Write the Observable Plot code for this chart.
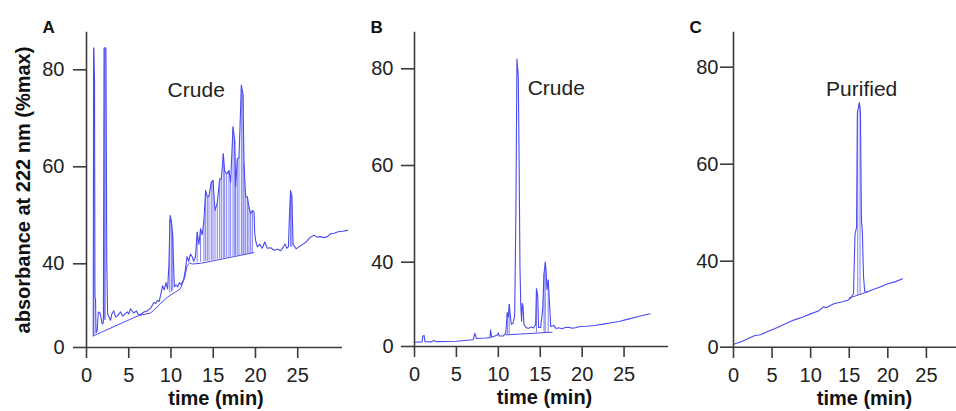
<!DOCTYPE html>
<html><head><meta charset="utf-8">
<script src="https://cdn.jsdelivr.net/npm/d3@7"></script>
<script src="https://cdn.jsdelivr.net/npm/@observablehq/plot@0.6"></script>
<style>
body{margin:0;background:#fff;}
#wrap{position:relative;width:956px;height:411px;overflow:hidden;}
#wrap > svg{position:absolute;top:0;}
</style></head><body><div id="wrap"></div>
<script>
// ---- labels & ticks ----
const xTicks = [0, 5, 10, 15, 20, 25];
const yTicks = [0, 40, 60, 80];
const yDomain = [0, 40, 80];
const panelLetters = ["A", "B", "C"];
const annotations = ["Crude", "Crude", "Purified"];
const annotationPos = [[9.6, 74.4], [13.5, 74.6], [12.0, 74.0]];
const xLabel = "time (min)";
const yLabel = "absorbance at 222 nm (%max)";

// ---- panel A (crude) ----
const signalA = [[0.80,5.5],[0.84,84.5],[0.95,78],[1.0,24],[1.07,23],[1.12,7],[1.26,8],[1.4,17],[1.6,16.5],[1.86,11.3],[2.0,12],[2.08,84.5],[2.3,84.5],[2.35,63],[2.4,40],[2.5,16],[2.84,13],[3.0,16],[3.23,17.5],[3.45,14.5],[3.63,15],[4.03,17],[4.25,15],[4.42,15.5],[4.82,17],[5.0,16],[5.21,18.5],[5.6,16.5],[5.9,17.5],[6.2,15.3],[6.8,17],[7.2,17.5],[7.6,18.8],[7.97,21.5],[8.2,21],[8.4,22.5],[8.6,22],[8.77,25],[9.0,29.5],[9.2,27.5],[9.4,31],[9.6,28],[9.75,39],[9.9,50],[10.0,49],[10.1,48],[10.2,46],[10.3,40],[10.4,29],[10.6,30],[10.8,29],[11.0,31],[11.2,30],[11.5,32.5],[11.7,37],[11.9,41.5],[12.1,40.5],[12.3,42],[12.5,41.5],[12.7,40.5],[12.9,41.5],[13.1,46.5],[13.3,44],[13.5,47.2],[13.7,46],[13.9,49],[14.1,55.1],[14.3,53.8],[14.5,54],[14.77,56.8],[14.97,57.2],[15.21,51],[15.48,52.5],[15.76,57.5],[15.96,57.5],[16.19,62.7],[16.35,59.2],[16.59,58.5],[16.86,59.2],[17.06,56.8],[17.34,68.2],[17.54,65.5],[17.65,55.9],[17.85,61.6],[18.05,61.9],[18.33,76.8],[18.52,75],[18.64,60.6],[18.84,53.8],[19.04,53.8],[19.23,51.7],[19.43,50.3],[19.63,51],[19.83,50.7],[19.9,46.5],[20.02,44.8],[20.22,43.5],[20.5,44],[20.8,43.2],[21.1,44.5],[21.4,43.2],[21.8,43.3],[22.2,42.8],[22.6,43],[23.0,42.7],[23.3,43.5],[23.5,44.1],[23.7,43.2],[23.9,43.5],[24.0,49],[24.15,55.1],[24.3,54],[24.45,44],[24.8,43.1],[25.4,43.8],[26.0,44.5],[26.5,45.5],[26.9,45.9],[27.3,45.5],[27.7,45.6],[28.1,45.4],[28.5,45.6],[28.9,46.2],[29.3,46.3],[29.8,46.6],[30.3,46.7],[30.9,46.9]];
const baselineA = [[0.87,5.7],[6.2,15.3],[7.6,16.5],[9.56,24.0],[11.1,28.0],[11.6,33],[11.9,39],[12.2,40.2],[12.5,39.9],[13.5,40.1],[19.8,42.3]];
const strokesA = [[0.88,6,84.5],[2.12,13,84.5],[2.22,13,84.5],[9.85,26,49],[10.05,26.5,49],[10.2,27,46],[13.1,40.2,46.5],[13.5,40.3,47.2],[13.9,40.4,49],[14.1,40.5,55.1],[14.3,40.5,53.8],[14.5,40.6,54],[14.77,40.7,56.8],[14.97,40.7,57.2],[15.21,40.8,51],[15.48,40.9,52.5],[15.76,41,57.5],[15.96,41,57.5],[16.19,41.1,62.7],[16.35,41.2,59.2],[16.59,41.2,58.5],[16.86,41.3,59.2],[17.06,41.4,56.8],[17.34,41.5,68.2],[17.54,41.5,65.5],[17.65,41.6,55.9],[17.85,41.6,61.6],[18.05,41.7,61.9],[18.33,41.8,76.8],[18.52,41.8,75],[18.64,41.9,60.6],[18.84,41.9,53.8],[19.04,42,53.8],[19.23,42,51.7],[19.43,42.1,50.3],[19.63,42.1,51],[24.15,43.4,55],[24.3,43.4,54]];

// ---- panel B (crude) ----
const signalB = [[0.1,2.0],[0.9,2.2],[1.0,5.0],[1.15,5.2],[1.25,2.3],[2.0,2.2],[2.3,2.8],[2.6,2.3],[5.0,2.5],[7.0,3.2],[7.2,6.2],[7.4,3.8],[8.5,4.0],[9.0,4.2],[9.07,7.8],[9.2,4.4],[9.9,5.5],[10.0,6.5],[10.1,5.0],[10.6,5.0],[10.9,6.5],[11.05,16],[11.2,14],[11.3,20],[11.45,14],[11.55,10.5],[11.75,11],[11.95,14.5],[12.1,51],[12.22,82],[12.38,78.5],[12.48,61],[12.58,38],[12.68,19],[12.78,12],[12.85,20.5],[12.95,19],[13.05,10.5],[13.3,9],[13.6,8.6],[13.9,9.3],[14.2,8.8],[14.45,10.5],[14.55,27.4],[14.7,24],[14.8,9],[15.05,9],[15.3,18],[15.45,34.5],[15.6,40.0],[15.7,36],[15.8,27],[15.95,31.5],[16.1,21],[16.25,9.5],[16.6,10],[16.9,8.5],[17.2,8.9],[17.6,8.4],[18.0,9.0],[18.4,9.1],[18.8,8.7],[19.2,8.9],[19.6,9.4],[20.5,9.6],[21.5,10.0],[22.5,10.6],[23.5,11.3],[24.5,12.0],[25.5,13.0],[26.5,14.0],[27.3,14.8],[28.1,15.5]];
const baselineB = [[10.9,5.5],[16.4,6.8]];
const strokesB = [[11.1,5.6,16],[11.3,5.7,20],[14.55,6.4,27.4],[15.45,6.6,34.5],[15.6,6.6,40],[15.95,6.7,31.5]];

// ---- panel C (purified) ----
const signalC = [[0.1,1.5],[1.0,2.5],[2.0,4.2],[2.7,5.3],[3.5,5.8],[4.5,7.4],[5.7,9.2],[6.8,11.0],[7.8,12.6],[9.0,14.0],[10.0,15.5],[11.0,16.8],[11.7,18.8],[12.0,18.4],[13.0,20.2],[14.0,21.0],[14.8,21.8],[15.2,23.0],[15.55,25],[15.75,45.6],[15.95,47],[16.05,70.5],[16.3,72.7],[16.45,70.5],[16.58,48.5],[16.7,46],[16.85,33],[17.0,26],[17.2,25.6],[18.0,26.7],[19.0,28.0],[20.0,29.5],[21.0,30.5],[21.9,31.8]];
const baselineC = [[15.0,22.9],[17.3,25.6]];
const strokesC = [[16.1,24,71],[16.4,24.2,72]];

const series = [
  {signal: signalA, baseline: baselineA, strokes: strokesA},
  {signal: signalB, baseline: baselineB, strokes: strokesB},
  {signal: signalC, baseline: baselineC, strokes: strokesC}
];

// ---- layout (positions/sizes) ----
const layout = [
  {left: 0,   width: 350, ml: 86, mr: 8,  mb: 64, xmax: 30.3, yRange: [347, 263.3, 69.3], pad: 9, xlDx: 1.5, ylabel: true},
  {left: 340, width: 340, ml: 74, mr: 12, mb: 65, xmax: 30.3, yRange: [346, 261.7, 68.3], pad: 8, xlDx: 3,   ylabel: false},
  {left: 660, width: 296, ml: 73, mr: 0,  mb: 64, xmax: 28.9, yRange: [346.7, 260.7, 66.7], pad: 2, xlDx: 19.5, ylabel: false}
];

const FONT = '"Liberation Sans", Arial, Helvetica, sans-serif';
const AX = "#3c3c3c";
const LINE = "#4a4af2";
const wrap = document.getElementById("wrap");

layout.forEach((L, i) => {
  const S = series[i];
  const marks = [
    Plot.ruleX(S.strokes, {x: d => d[0], y1: d => d[1], y2: d => d[2], stroke: LINE, strokeOpacity: 0.7, strokeWidth: 1}),
    Plot.line(S.baseline, {x: d => d[0], y: d => d[1], stroke: LINE, strokeWidth: 1}),
    Plot.line(S.signal, {x: d => d[0], y: d => d[1], stroke: LINE, strokeWidth: 1.1}),
    Plot.frame({anchor: "left", stroke: AX, strokeWidth: 1.6}),
    Plot.ruleY([0], {stroke: AX, strokeWidth: 1.6}),
    Plot.axisX(xTicks, {anchor: "bottom", tickSize: 11, tickPadding: 9, fontSize: 20, label: null, stroke: AX, strokeWidth: 1.6, fill: "#222"}),
    Plot.axisY(yTicks, {anchor: "left", tickSize: 13, tickPadding: L.pad, fontSize: 20, label: null, stroke: AX, strokeWidth: 1.6, fill: "#222"}),
    Plot.text([panelLetters[i]], {frameAnchor: "top-left", dx: -44, textAnchor: "start", lineAnchor: "bottom", fontWeight: "bold", fontSize: 17, fill: "#111"}),
    Plot.text([annotations[i]], {x: annotationPos[i][0], y: annotationPos[i][1], textAnchor: "start", lineAnchor: "bottom", fontSize: 21, fill: "#222"}),
    Plot.text([xLabel], {frameAnchor: "bottom", dx: L.xlDx, dy: 57, lineAnchor: "bottom", fontWeight: "bold", fontSize: 20, fill: "#111"})
  ];
  if (L.ylabel) {
    marks.push(Plot.text([yLabel], {frameAnchor: "left", dx: -57, rotate: -90, lineAnchor: "bottom", textAnchor: "middle", fontWeight: "bold", fontSize: 20, fill: "#111"}));
  }
  const svg = Plot.plot({
    width: L.width, height: 411,
    marginLeft: L.ml, marginRight: L.mr, marginTop: 32, marginBottom: L.mb,
    x: {type: "linear", domain: [0, L.xmax]},
    y: {type: "linear", domain: yDomain, range: L.yRange},
    style: {fontFamily: FONT, background: "none", overflow: "visible", maxWidth: "none", color: "#222"},
    marks
  });
  svg.style.left = L.left + "px";
  wrap.appendChild(svg);
});
</script></body></html>
